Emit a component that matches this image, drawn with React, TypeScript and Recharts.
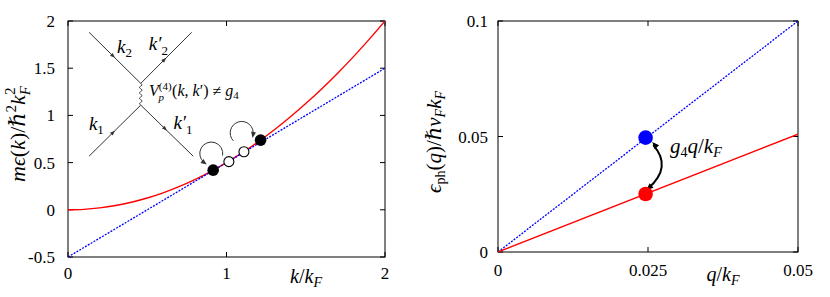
import React from 'react';
import { ComposedChart, Line, Scatter, XAxis, YAxis, Customized } from 'recharts';

const FONT = "'Liberation Serif', 'Times New Roman', Times, 'DejaVu Serif', serif";

// ---------- Left panel data ----------
const kGrid = [0, 0.1, 0.2, 0.3, 0.4, 0.5, 0.6, 0.7, 0.8, 0.9, 1.0, 1.1, 1.2, 1.3, 1.4, 1.5, 1.6, 1.7, 1.8, 1.9, 2.0];
const freeDispersion = [0, 0.005, 0.02, 0.045, 0.08, 0.125, 0.18, 0.245, 0.32, 0.405, 0.5, 0.605, 0.72, 0.845, 0.98, 1.125, 1.28, 1.445, 1.62, 1.805, 2.0];
const linearK = [0, 2];
const linearE = [-0.5, 1.5];
const filledK = [0.916, 1.215];
const filledE = [0.42, 0.738];
const openK = [1.015, 1.11];
const openE = [0.51, 0.615];
const leftXTicks = [0, 1, 2];
const leftYTicks = [-0.5, 0, 0.5, 1, 1.5, 2];

// ---------- Right panel data ----------
const qGrid = [0, 0.05];
const bareE = [0, 0.1];
const dressedE = [0, 0.051];
const markQ = [0.0246];
const bareMarkE = [0.0495];
const dressedMarkE = [0.0251];
const rightXTicks = [0, 0.025, 0.05];
const rightYTicks = [0, 0.05, 0.1];

// ---------- annotation anchors (data units) ----------
const diagramLegs = [
  [0.133, 1.88, 0.459, 1.339],
  [0.459, 1.339, 0.78, 1.88],
  [0.133, 0.568, 0.459, 1.109],
  [0.459, 1.109, 0.79, 0.568],
];
const wavyLine = [0.459, 1.339, 0.459, 1.109];
const loops = [
  [0.904, 0.596, 10, 127, 0],
  [1.096, 0.814, 137, 10, 1],
];
const renormArrow = [
  [0.02588, 0.0463],
  [0.02728, 0.0369],
  [0.02505, 0.0276],
];

// ---------- layout ----------
const W = 415;
const H = 297;
const L = { x0: 68, x1: 385, y0: 21, y1: 257 };
const R = { x0: 83, x1: 383, y0: 21, y1: 252 };

const lin = (d0: number, d1: number, r0: number, r1: number) => (v: number) => r0 + ((v - d0) / (d1 - d0)) * (r1 - r0);

const zip = (xs: number[], ys: number[], kx: string, ky: string) => xs.map((x, i) => ({ [kx]: x, [ky]: ys[i] }));

const txt: React.CSSProperties = { fontFamily: FONT };

function Head({ x, y, dx, dy, len = 6, half = 2.5, fill = '#000' }: any) {
  const n = Math.hypot(dx, dy);
  const ux = dx / n;
  const uy = dy / n;
  const bx = x - ux * len;
  const by = y - uy * len;
  const px = -uy * half;
  const py = ux * half;
  return <polygon points={`${x},${y} ${bx + px},${by + py} ${bx - px},${by - py}`} fill={fill} />;
}

function Frame({ P, sx, sy, xt, yt }: any) {
  const t = 5;
  return (
    <g stroke="#000" strokeWidth={1} fill="none">
      <rect x={P.x0} y={P.y0} width={P.x1 - P.x0} height={P.y1 - P.y0} />
      {xt.map((v: number) => (
        <g key={'x' + v}>
          <line x1={sx(v)} x2={sx(v)} y1={P.y1} y2={P.y1 - t} />
          <line x1={sx(v)} x2={sx(v)} y1={P.y0} y2={P.y0 + t} />
        </g>
      ))}
      {yt.map((v: number) => (
        <g key={'y' + v}>
          <line x1={P.x0} x2={P.x0 + t} y1={sy(v)} y2={sy(v)} />
          <line x1={P.x1} x2={P.x1 - t} y1={sy(v)} y2={sy(v)} />
        </g>
      ))}
    </g>
  );
}

function LeftOverlay() {
  const sx = lin(0, 2, L.x0, L.x1);
  const sy = lin(-0.5, 2, L.y1, L.y0);
  const ink = '#333';
  const wx = sx(wavyLine[0]);
  const wy0 = sy(wavyLine[1]);
  const wy1 = sy(wavyLine[3]);
  const nHalf = 8;
  const step = (wy1 - wy0) / nHalf;
  let wpath = `M ${wx} ${wy0}`;
  for (let i = 0; i < nHalf; i++) {
    const cy = wy0 + step * (i + 0.5);
    const cx = wx + (i % 2 === 0 ? 3 : -3);
    wpath += ` Q ${cx} ${cy} ${wx} ${wy0 + step * (i + 1)}`;
  }
  const rr = 11.5;
  return (
    <g>
      <Frame P={L} sx={sx} sy={sy} xt={leftXTicks} yt={leftYTicks} />
      {diagramLegs.map((d, i) => {
        const x1 = sx(d[0]);
        const y1 = sy(d[1]);
        const x2 = sx(d[2]);
        const y2 = sy(d[3]);
        const mx = x1 + (x2 - x1) * 0.5;
        const my = y1 + (y2 - y1) * 0.5;
        return (
          <g key={i}>
            <line x1={x1} y1={y1} x2={x2} y2={y2} stroke={ink} strokeWidth={1} />
            <Head x={mx} y={my} dx={x2 - x1} dy={y2 - y1} len={5} half={2} fill={ink} />
          </g>
        );
      })}
      <path d={wpath} stroke={ink} strokeWidth={0.9} fill="none" />
      {loops.map((l, i) => {
        const cx = sx(l[0]);
        const cy = sy(l[1]);
        const a0 = (l[2] * Math.PI) / 180;
        const a1 = (l[3] * Math.PI) / 180;
        const sxp = cx + rr * Math.cos(a0);
        const syp = cy + rr * Math.sin(a0);
        const ex = cx + rr * Math.cos(a1);
        const ey = cy + rr * Math.sin(a1);
        const sweep = l[4];
        const tdx = sweep ? -Math.sin(a1) : Math.sin(a1);
        const tdy = sweep ? Math.cos(a1) : -Math.cos(a1);
        return (
          <g key={'l' + i}>
            <path d={`M ${sxp} ${syp} A ${rr} ${rr} 0 1 ${sweep} ${ex} ${ey}`} stroke={ink} strokeWidth={1} fill="none" />
            <Head x={ex + tdx * 3} y={ey + tdy * 3} dx={tdx} dy={tdy} len={6} half={2.5} fill={ink} />
          </g>
        );
      })}
      <g style={txt} fill="#000">
        <text x={sx(0.309)} y={sy(1.661)} fontSize={19} style={txt}>
          <tspan fontStyle="italic">k</tspan>
          <tspan fontSize={13} dy={4}>2</tspan>
        </text>
        <text x={sx(0.51)} y={sy(1.693)} fontSize={19} style={txt}>
          <tspan fontStyle="italic">k′</tspan>
          <tspan fontSize={13} dy={5}>2</tspan>
        </text>
        <text x={sx(0.132)} y={sy(0.845)} fontSize={19} style={txt}>
          <tspan fontStyle="italic">k</tspan>
          <tspan fontSize={13} dy={4}>1</tspan>
        </text>
        <text x={sx(0.665)} y={sy(0.856)} fontSize={19} style={txt}>
          <tspan fontStyle="italic">k′</tspan>
          <tspan fontSize={13} dy={5}>1</tspan>
        </text>
        <text x={sx(0.511)} y={sy(1.205)} fontSize={16} style={txt}>
          <tspan fontStyle="italic">V</tspan>
          <tspan fontSize={11} dy={-6}>(4)</tspan>
          <tspan fontSize={11} fontStyle="italic" dx={-13} dy={11}>p</tspan>
          <tspan dx={8} dy={-5}>(</tspan>
          <tspan fontStyle="italic">k</tspan>
          <tspan>, </tspan>
          <tspan fontStyle="italic">k</tspan>
          <tspan>′) ≠ </tspan>
          <tspan fontStyle="italic">g</tspan>
          <tspan fontSize={11} dy={3}>4</tspan>
        </text>
        <text transform="translate(25,134) rotate(-90)" textAnchor="middle" fontSize={22} style={txt}>
          <tspan fontStyle="italic">mϵ</tspan>
          <tspan>(</tspan>
          <tspan fontStyle="italic">k</tspan>
          <tspan>)/</tspan>
          <tspan fontStyle="italic">ℏ</tspan>
          <tspan fontSize={15} dy={-9}>2</tspan>
          <tspan fontStyle="italic" dy={9}>k</tspan>
          <tspan fontStyle="italic" fontSize={15} dy={5}>F</tspan>
          <tspan fontSize={15} dx={-9} dy={-15}>2</tspan>
        </text>
        <text x={306} y={283} textAnchor="middle" fontSize={20} style={txt}>
          <tspan fontStyle="italic">k</tspan>
          <tspan>/</tspan>
          <tspan fontStyle="italic">k</tspan>
          <tspan fontStyle="italic" fontSize={14} dy={4}>F</tspan>
        </text>
      </g>
    </g>
  );
}

function RightOverlay() {
  const sx = lin(0, 0.05, R.x0, R.x1);
  const sy = lin(0, 0.1, R.y1, R.y0);
  const p0 = { x: sx(renormArrow[0][0]), y: sy(renormArrow[0][1]) };
  const m = { x: sx(renormArrow[1][0]), y: sy(renormArrow[1][1]) };
  const p2 = { x: sx(renormArrow[2][0]), y: sy(renormArrow[2][1]) };
  const c = { x: 2 * m.x - (p0.x + p2.x) / 2, y: 2 * m.y - (p0.y + p2.y) / 2 };
  return (
    <g>
      <Frame P={R} sx={sx} sy={sy} xt={rightXTicks} yt={rightYTicks} />
      <path d={`M ${p0.x} ${p0.y} Q ${c.x} ${c.y} ${p2.x} ${p2.y}`} stroke="#000" strokeWidth={2} fill="none" />
      <Head x={p0.x - 1} y={p0.y - 3} dx={p0.x - c.x} dy={p0.y - c.y} len={7} half={3} />
      <Head x={p2.x - 2} y={p2.y + 2} dx={p2.x - c.x} dy={p2.y - c.y} len={7} half={3} />
      <g style={txt} fill="#000">
        <text x={sx(0.02867)} y={sy(0.0429)} fontSize={21} style={txt}>
          <tspan fontStyle="italic">g</tspan>
          <tspan fontSize={14} dy={4}>4</tspan>
          <tspan fontStyle="italic" dy={-4}>q</tspan>
          <tspan>/</tspan>
          <tspan fontStyle="italic">k</tspan>
          <tspan fontStyle="italic" fontSize={14} dy={4}>F</tspan>
        </text>
        <text transform="translate(26,142) rotate(-90)" textAnchor="middle" fontSize={21} style={txt}>
          <tspan fontStyle="italic">ϵ</tspan>
          <tspan fontSize={14} dy={4}>ph</tspan>
          <tspan dy={-4}>(</tspan>
          <tspan fontStyle="italic">q</tspan>
          <tspan>)/</tspan>
          <tspan fontStyle="italic">ℏv</tspan>
          <tspan fontStyle="italic" fontSize={14} dy={4}>F</tspan>
          <tspan fontStyle="italic" dy={-4}>k</tspan>
          <tspan fontStyle="italic" fontSize={14} dy={4}>F</tspan>
        </text>
        <text x={308} y={281} textAnchor="middle" fontSize={20} style={txt}>
          <tspan fontStyle="italic">q</tspan>
          <tspan>/</tspan>
          <tspan fontStyle="italic">k</tspan>
          <tspan fontStyle="italic" fontSize={14} dy={4}>F</tspan>
        </text>
      </g>
    </g>
  );
}

function XTick(props: any) {
  const { x, y, payload } = props;
  return (
    <text x={x} y={y} dy="0.71em" textAnchor="middle" fontSize={17} fill="#000" style={txt}>
      {String(payload.value)}
    </text>
  );
}

function YTick(props: any) {
  const { x, y, payload } = props;
  return (
    <text x={x} y={y} dy="0.355em" textAnchor="end" fontSize={17} fill="#000" style={txt}>
      {String(payload.value)}
    </text>
  );
}

const disc = (r: number, fill: string, stroke = 'none') => (p: any) => (
  <circle cx={p.cx} cy={p.cy} r={r} fill={fill} stroke={stroke} strokeWidth={1.1} />
);

export default function App() {
  const free = zip(kGrid, freeDispersion, 'k', 'e');
  const linear = zip(linearK, linearE, 'k', 'e');
  const filled = zip(filledK, filledE, 'k', 'e');
  const open = zip(openK, openE, 'k', 'e');
  const bare = zip(qGrid, bareE, 'q', 'e');
  const dressed = zip(qGrid, dressedE, 'q', 'e');
  const bareMark = zip(markQ, bareMarkE, 'q', 'e');
  const dressedMark = zip(markQ, dressedMarkE, 'q', 'e');

  return (
    <div style={{ position: 'absolute', left: 0, top: 0, width: 830, height: 297, display: 'flex', background: '#fff', fontFamily: FONT }}>
      <ComposedChart width={W} height={H} margin={{ top: 21, right: W - L.x1, bottom: 0, left: 0 }}>
        <XAxis
          type="number"
          dataKey="k"
          domain={[0, 2]}
          ticks={leftXTicks}
          interval={0}
          allowDataOverflow
          height={H - L.y1}
          axisLine={false}
          tickLine={false}
          tickSize={6}
          tickMargin={4}
          tick={<XTick />}
        />
        <YAxis
          type="number"
          domain={[-0.5, 2]}
          ticks={leftYTicks}
          interval={0}
          allowDataOverflow
          width={L.x0}
          axisLine={false}
          tickLine={false}
          tickSize={6}
          tickMargin={7}
          tick={<YTick />}
        />
        <Line data={free} dataKey="e" type="monotone" stroke="#ff0000" strokeWidth={1.4} dot={false} isAnimationActive={false} />
        <Line data={linear} dataKey="e" type="linear" stroke="#0000ff" strokeWidth={1.3} strokeDasharray="2 1.3" dot={false} isAnimationActive={false} />
        <Scatter data={open} dataKey="e" shape={disc(5, '#fff', '#000')} isAnimationActive={false} />
        <Scatter data={filled} dataKey="e" shape={disc(5.8, '#000')} isAnimationActive={false} />
        <Customized component={<LeftOverlay />} />
      </ComposedChart>
      <ComposedChart width={W} height={H} margin={{ top: 21, right: W - R.x1, bottom: 0, left: 0 }}>
        <XAxis
          type="number"
          dataKey="q"
          domain={[0, 0.05]}
          ticks={rightXTicks}
          interval={0}
          allowDataOverflow
          height={H - R.y1}
          axisLine={false}
          tickLine={false}
          tickSize={6}
          tickMargin={6}
          tick={<XTick />}
        />
        <YAxis
          type="number"
          domain={[0, 0.1]}
          ticks={rightYTicks}
          interval={0}
          allowDataOverflow
          width={R.x0}
          axisLine={false}
          tickLine={false}
          tickSize={6}
          tickMargin={4}
          tick={<YTick />}
        />
        <Line data={bare} dataKey="e" type="linear" stroke="#0000ff" strokeWidth={1.3} strokeDasharray="2 1.3" dot={false} isAnimationActive={false} />
        <Line data={dressed} dataKey="e" type="linear" stroke="#ff0000" strokeWidth={1.4} dot={false} isAnimationActive={false} />
        <Scatter data={bareMark} dataKey="e" shape={disc(7.3, '#0000ff')} isAnimationActive={false} />
        <Scatter data={dressedMark} dataKey="e" shape={disc(7.3, '#ff0000')} isAnimationActive={false} />
        <Customized component={<RightOverlay />} />
      </ComposedChart>
    </div>
  );
}
